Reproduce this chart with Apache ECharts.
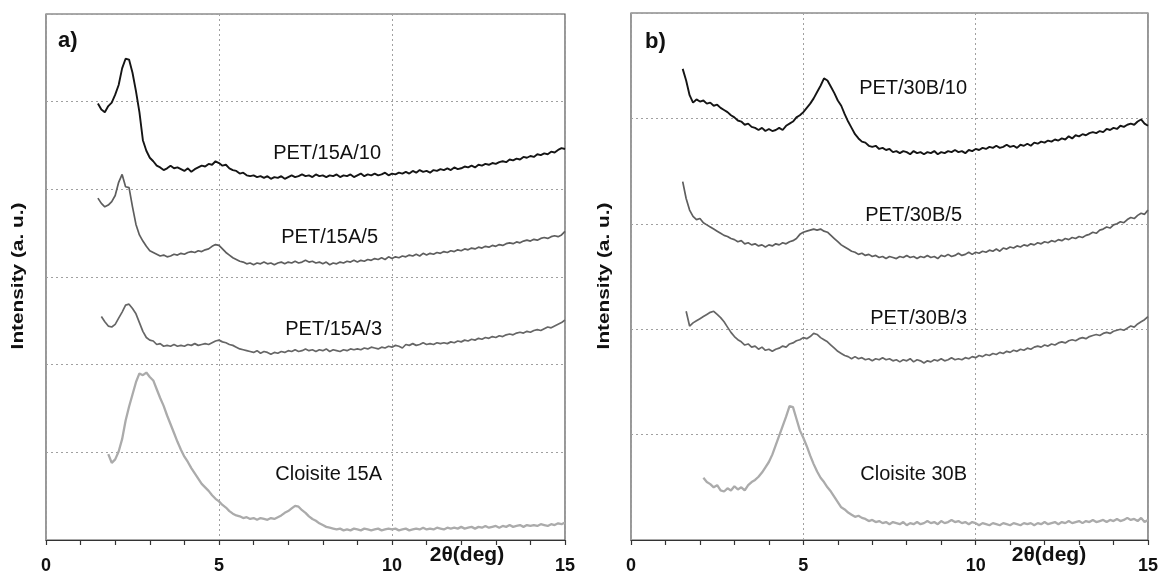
<!DOCTYPE html>
<html>
<head>
<meta charset="utf-8">
<script src="https://cdn.jsdelivr.net/npm/echarts@6/dist/echarts.min.js"></script>
<style>
html,body{margin:0;padding:0;background:#fff;}
#c{width:1161px;height:575px;}
</style>
</head>
<body>
<div id="c"></div>
<script>
// 2θ step of the scans (deg)
const STEP = 0.1;
const xTicks = [0, 5, 10, 15];
const xName = '2θ(deg)';
const yName = 'Intensity (a. u.)';

// ---- panel a) ----
const a_labels = ['PET/15A/10', 'PET/15A/5', 'PET/15A/3', 'Cloisite 15A'];
const a_start = [1.5, 1.5, 1.6, 1.8];
const pet15a10 = [4.98,4.91,4.88,4.95,4.99,5.08,5.19,5.38,5.49,5.48,5.33,5.12,4.88,4.56,4.44,4.36,4.32,4.27,4.25,4.22,
4.24,4.27,4.24,4.25,4.23,4.21,4.24,4.20,4.23,4.25,4.27,4.26,4.29,4.28,4.32,4.30,4.27,4.28,4.24,4.22,
4.21,4.18,4.19,4.16,4.15,4.16,4.14,4.15,4.13,4.15,4.12,4.14,4.13,4.15,4.12,4.14,4.16,4.14,4.15,4.17,
4.15,4.16,4.14,4.17,4.15,4.16,4.14,4.16,4.15,4.17,4.14,4.16,4.15,4.17,4.14,4.16,4.18,4.15,4.17,4.16,
4.18,4.16,4.17,4.19,4.16,4.18,4.17,4.19,4.18,4.20,4.18,4.21,4.19,4.22,4.20,4.21,4.19,4.22,4.21,4.23,
4.22,4.24,4.22,4.25,4.23,4.24,4.26,4.25,4.27,4.25,4.28,4.27,4.29,4.28,4.30,4.29,4.31,4.32,4.31,4.34,
4.33,4.35,4.34,4.37,4.36,4.38,4.37,4.40,4.39,4.41,4.40,4.43,4.42,4.45,4.47,4.46];
const pet15a5 = [3.90,3.84,3.80,3.82,3.86,3.93,4.08,4.17,4.03,4.02,3.80,3.60,3.48,3.41,3.35,3.30,3.28,3.26,3.24,3.25,
3.23,3.24,3.26,3.25,3.27,3.26,3.28,3.29,3.28,3.30,3.29,3.31,3.32,3.35,3.37,3.36,3.32,3.28,3.25,3.22,
3.20,3.18,3.17,3.15,3.16,3.14,3.16,3.15,3.17,3.15,3.16,3.14,3.16,3.17,3.15,3.17,3.16,3.18,3.16,3.17,
3.19,3.17,3.18,3.16,3.17,3.15,3.17,3.14,3.16,3.15,3.17,3.16,3.18,3.17,3.19,3.17,3.19,3.18,3.20,3.19,
3.21,3.20,3.22,3.20,3.23,3.21,3.23,3.22,3.24,3.23,3.25,3.24,3.26,3.24,3.27,3.25,3.27,3.26,3.28,3.27,
3.29,3.28,3.30,3.29,3.31,3.30,3.32,3.31,3.33,3.32,3.34,3.33,3.35,3.34,3.36,3.35,3.37,3.36,3.38,3.39,
3.38,3.40,3.39,3.41,3.42,3.41,3.43,3.42,3.44,3.45,3.44,3.46,3.47,3.46,3.48,3.52];
const pet15a3 = [2.55,2.49,2.44,2.43,2.46,2.53,2.60,2.68,2.69,2.64,2.58,2.48,2.38,2.31,2.28,2.27,2.23,2.24,2.21,2.22,
2.21,2.23,2.21,2.22,2.21,2.23,2.22,2.24,2.22,2.23,2.24,2.23,2.25,2.27,2.28,2.26,2.25,2.23,2.22,2.20,
2.18,2.17,2.16,2.15,2.14,2.16,2.13,2.15,2.14,2.12,2.14,2.13,2.15,2.14,2.16,2.15,2.17,2.15,2.16,2.18,
2.16,2.17,2.15,2.17,2.16,2.18,2.15,2.17,2.16,2.15,2.17,2.16,2.18,2.17,2.18,2.17,2.19,2.18,2.20,2.19,
2.18,2.20,2.19,2.21,2.20,2.22,2.21,2.19,2.23,2.22,2.24,2.22,2.23,2.25,2.23,2.24,2.23,2.25,2.24,2.25,
2.24,2.26,2.25,2.27,2.26,2.28,2.27,2.29,2.28,2.30,2.29,2.31,2.30,2.32,2.31,2.33,2.32,2.34,2.35,2.34,
2.36,2.37,2.36,2.38,2.37,2.39,2.40,2.39,2.41,2.43,2.42,2.44,2.46,2.48,2.51];
const cloisite15a = [0.98,0.88,0.92,1.01,1.15,1.36,1.52,1.66,1.80,1.90,1.88,1.91,1.86,1.82,1.72,1.62,1.53,1.42,1.32,1.22,
1.12,1.03,0.95,0.89,0.82,0.76,0.70,0.64,0.60,0.56,0.51,0.47,0.44,0.40,0.37,0.33,0.30,0.28,0.27,0.25,
0.26,0.24,0.25,0.23,0.25,0.24,0.23,0.25,0.24,0.26,0.28,0.31,0.33,0.36,0.39,0.38,0.34,0.31,0.27,0.24,
0.22,0.19,0.17,0.15,0.14,0.13,0.12,0.13,0.11,0.12,0.11,0.13,0.12,0.11,0.13,0.12,0.11,0.12,0.13,0.11,
0.12,0.13,0.12,0.13,0.11,0.12,0.13,0.11,0.12,0.13,0.12,0.14,0.12,0.13,0.12,0.14,0.13,0.12,0.14,0.13,
0.14,0.13,0.15,0.13,0.14,0.15,0.13,0.15,0.14,0.16,0.14,0.15,0.16,0.14,0.16,0.15,0.17,0.15,0.16,0.17,
0.15,0.17,0.16,0.17,0.16,0.18,0.17,0.16,0.18,0.17,0.19,0.18,0.20];

// ---- panel b) ----
const b_labels = ['PET/30B/10', 'PET/30B/5', 'PET/30B/3', 'Cloisite 30B'];
const b_start = [1.5, 1.5, 1.6, 2.1];
const pet30b10 = [4.47,4.36,4.22,4.15,4.18,4.16,4.17,4.14,4.15,4.12,4.13,4.10,4.08,4.06,4.03,4.01,3.98,3.97,3.94,3.95,
3.92,3.91,3.89,3.91,3.88,3.90,3.88,3.89,3.91,3.89,3.93,3.95,3.97,4.01,4.03,4.06,4.10,4.14,4.19,4.25,
4.31,4.38,4.36,4.30,4.24,4.17,4.12,4.04,3.97,3.91,3.85,3.81,3.78,3.77,3.74,3.73,3.74,3.71,3.72,3.70,
3.71,3.68,3.69,3.67,3.69,3.68,3.66,3.69,3.67,3.68,3.66,3.68,3.67,3.69,3.66,3.68,3.67,3.69,3.68,3.70,
3.68,3.69,3.67,3.70,3.69,3.71,3.70,3.72,3.71,3.73,3.72,3.74,3.72,3.73,3.75,3.73,3.74,3.72,3.75,3.74,
3.76,3.74,3.77,3.76,3.78,3.77,3.79,3.78,3.80,3.79,3.81,3.80,3.83,3.81,3.84,3.83,3.85,3.84,3.86,3.87,
3.86,3.88,3.87,3.90,3.89,3.91,3.90,3.93,3.92,3.94,3.95,3.94,3.97,3.99,3.95,3.93];
const pet30b5 = [3.40,3.24,3.13,3.07,3.04,3.05,3.01,2.99,2.97,2.95,2.93,2.91,2.89,2.88,2.86,2.85,2.83,2.84,2.81,2.82,
2.80,2.81,2.79,2.80,2.78,2.80,2.79,2.81,2.80,2.82,2.81,2.83,2.84,2.86,2.90,2.92,2.93,2.94,2.95,2.94,
2.95,2.93,2.92,2.89,2.86,2.83,2.80,2.78,2.76,2.74,2.73,2.71,2.72,2.70,2.71,2.69,2.70,2.68,2.69,2.67,
2.69,2.68,2.67,2.69,2.68,2.70,2.68,2.69,2.67,2.69,2.68,2.70,2.68,2.69,2.67,2.70,2.69,2.71,2.69,2.70,
2.72,2.70,2.71,2.73,2.71,2.73,2.72,2.74,2.73,2.75,2.74,2.76,2.74,2.77,2.76,2.78,2.77,2.79,2.78,2.80,
2.79,2.81,2.80,2.82,2.81,2.83,2.82,2.84,2.83,2.85,2.84,2.86,2.85,2.87,2.86,2.88,2.87,2.89,2.90,2.92,
2.91,2.94,2.95,2.97,2.96,2.99,3.00,3.02,3.01,3.04,3.06,3.05,3.08,3.10,3.09,3.13];
const pet30b3 = [2.17,2.03,2.06,2.08,2.10,2.12,2.14,2.16,2.17,2.14,2.11,2.07,2.02,1.97,1.93,1.90,1.88,1.85,1.86,1.83,
1.84,1.81,1.83,1.80,1.81,1.79,1.81,1.82,1.84,1.83,1.86,1.87,1.89,1.90,1.92,1.91,1.93,1.96,1.95,1.92,
1.90,1.88,1.85,1.82,1.79,1.77,1.75,1.74,1.72,1.74,1.72,1.73,1.71,1.72,1.70,1.72,1.71,1.73,1.71,1.72,
1.70,1.71,1.69,1.71,1.70,1.72,1.69,1.71,1.70,1.68,1.70,1.69,1.71,1.70,1.72,1.70,1.71,1.73,1.71,1.72,
1.71,1.73,1.72,1.74,1.73,1.75,1.74,1.76,1.75,1.77,1.76,1.78,1.77,1.79,1.78,1.80,1.79,1.81,1.80,1.82,
1.81,1.83,1.84,1.83,1.85,1.84,1.86,1.85,1.87,1.88,1.87,1.89,1.90,1.89,1.91,1.92,1.91,1.93,1.94,1.95,
1.94,1.96,1.97,1.96,1.98,1.99,2.00,1.99,2.01,2.03,2.02,2.05,2.07,2.09,2.12];
const cloisite30b = [0.59,0.55,0.53,0.50,0.52,0.47,0.46,0.49,0.47,0.51,0.48,0.50,0.47,0.52,0.55,0.57,0.60,0.64,0.69,0.74,
0.81,0.90,0.99,1.08,1.17,1.27,1.26,1.15,1.04,0.97,0.89,0.80,0.72,0.65,0.59,0.55,0.50,0.46,0.41,0.36,
0.31,0.29,0.26,0.24,0.22,0.23,0.21,0.20,0.18,0.19,0.17,0.18,0.16,0.17,0.15,0.17,0.16,0.15,0.17,0.14,
0.16,0.15,0.17,0.15,0.16,0.18,0.16,0.17,0.15,0.18,0.16,0.17,0.19,0.17,0.18,0.16,0.17,0.15,0.17,0.16,
0.14,0.16,0.15,0.14,0.16,0.15,0.14,0.16,0.15,0.14,0.16,0.15,0.14,0.16,0.15,0.16,0.14,0.16,0.15,0.17,
0.15,0.16,0.17,0.15,0.17,0.16,0.18,0.16,0.17,0.18,0.16,0.18,0.17,0.19,0.17,0.18,0.19,0.17,0.19,0.18,
0.20,0.18,0.19,0.21,0.19,0.20,0.18,0.21,0.17,0.19];

const seriesColors = ['#151515', '#5e5e5e', '#666666', '#ababab'];
const seriesWidths = [1.9, 1.7, 1.7, 2.3];

function toPairs(start, vals) {
  return vals.map((v, i) => [Math.round((start + i * STEP) * 100) / 100, v]);
}

const chart = echarts.init(document.getElementById('c'), null, {renderer: 'canvas'});
const FONT = 'Liberation Sans, Arial, sans-serif';

function xAxisFor(gi) {
  return {
    gridIndex: gi, type: 'value', min: 0, max: 15, interval: 5,
    axisLine: {show: true, onZero: false, lineStyle: {color: '#333', width: 1.2}},
    axisTick: {show: true, length: 5, inside: false, lineStyle: {color: '#333', width: 1.2}},
    minorTick: {show: true, splitNumber: 5, length: 5, lineStyle: {color: '#333', width: 1.2}},
    axisLabel: {show: true, margin: 17, color: '#111', fontSize: 18, fontWeight: 'bold', fontFamily: FONT,
      formatter: v => xTicks.indexOf(v) >= 0 ? String(v) : ''},
    splitLine: {show: true, lineStyle: {color: '#a0a0a0', type: [2, 3], width: 1}}
  };
}
function yAxisFor(gi, max) {
  return {
    gridIndex: gi, type: 'value', min: 0, max: max, interval: 1,
    axisLine: {show: false}, axisTick: {show: false}, axisLabel: {show: false},
    splitLine: {show: true, lineStyle: {color: '#a0a0a0', type: [2, 3], width: 1}}
  };
}

const series = [];
const aData = [pet15a10, pet15a5, pet15a3, cloisite15a];
const bData = [pet30b10, pet30b5, pet30b3, cloisite30b];
aData.forEach((d, i) => series.push({
  name: a_labels[i], type: 'line', xAxisIndex: 0, yAxisIndex: 0, showSymbol: false, symbol: 'none',
  data: toPairs(a_start[i], d), lineStyle: {color: seriesColors[i], width: seriesWidths[i]}, animation: false
}));
bData.forEach((d, i) => series.push({
  name: b_labels[i], type: 'line', xAxisIndex: 1, yAxisIndex: 1, showSymbol: false, symbol: 'none',
  data: toPairs(b_start[i], d), lineStyle: {color: seriesColors[i], width: seriesWidths[i]}, animation: false
}));

function txt(x, y, s, opts, extra) {
  return Object.assign({type: 'text', x: x, y: y, style: Object.assign({text: s, fill: '#111',
    font: '20px ' + FONT, textAlign: 'right', textVerticalAlign: 'middle'}, opts || {})}, extra || {});
}
function yTitle(x, y) {
  return txt(x, y, yName, {textAlign: 'center', font: 'bold 16px ' + FONT},
    {rotation: Math.PI / 2, scaleX: 1.3, scaleY: 1});
}

const graphics = [
  txt(381, 153, a_labels[0]), txt(378, 237, a_labels[1]), txt(382, 329, a_labels[2]), txt(382, 474, a_labels[3]),
  txt(967, 88, b_labels[0]), txt(962, 215, b_labels[1]), txt(967, 318, b_labels[2]), txt(967, 474, b_labels[3]),
  txt(58, 41, 'a)', {textAlign: 'left', font: 'bold 22px ' + FONT}),
  txt(645, 42, 'b)', {textAlign: 'left', font: 'bold 22px ' + FONT}),
  txt(467, 555, xName, {textAlign: 'center', font: 'bold 21px ' + FONT}),
  txt(1049, 555, xName, {textAlign: 'center', font: 'bold 21px ' + FONT}),
  yTitle(19, 276), yTitle(605, 276)
];

chart.setOption({
  animation: false,
  backgroundColor: '#fff',
  grid: [
    {left: 46, right: 596, top: 14, bottom: 34, show: true, borderColor: '#555', borderWidth: 1.2, backgroundColor: 'transparent'},
    {left: 631, right: 12, top: 13, bottom: 34, show: true, borderColor: '#555', borderWidth: 1.2, backgroundColor: 'transparent'}
  ],
  xAxis: [xAxisFor(0), xAxisFor(1)],
  yAxis: [yAxisFor(0, 6), yAxisFor(1, 5)],
  series: series,
  graphic: graphics
});
</script>
</body>
</html>
